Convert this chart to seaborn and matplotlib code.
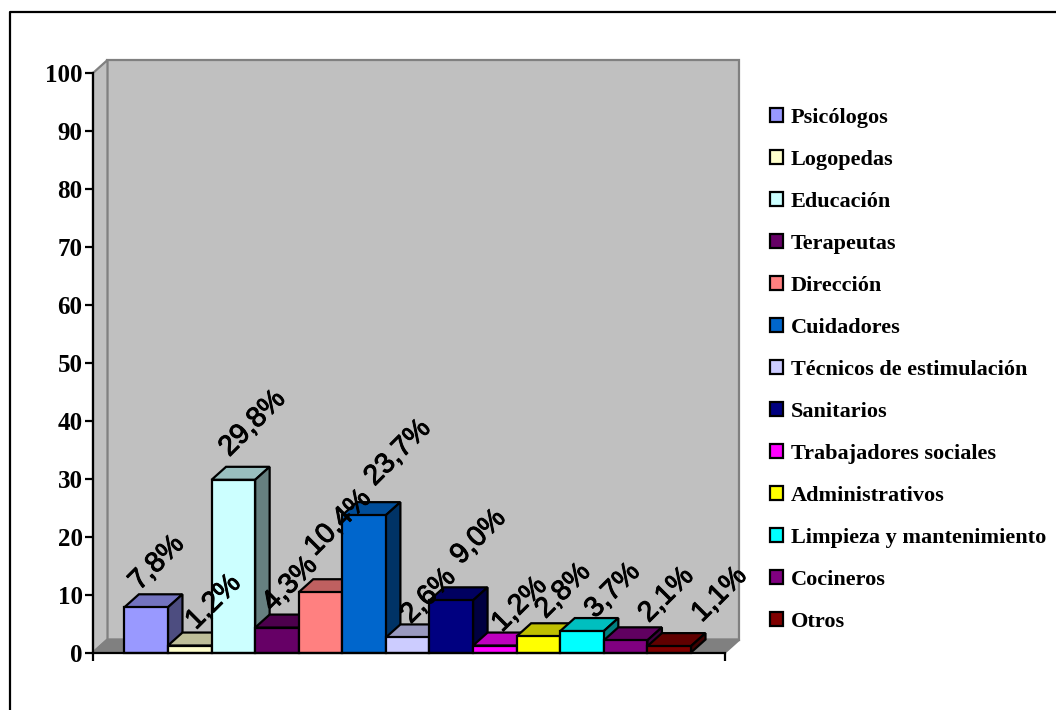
"""Personal por categoria profesional, 3D-look bars on a seaborn barplot."""
import matplotlib
matplotlib.use("Agg")
import matplotlib.pyplot as plt
import matplotlib.patheffects as pe
from matplotlib.colors import to_rgb
from matplotlib.lines import Line2D
from matplotlib.patches import Patch, Polygon
import pandas as pd
import seaborn as sns

CATEGORIES = ["Psicólogos", "Logopedas", "Educación", "Terapeutas", "Dirección",
              "Cuidadores", "Técnicos de estimulación", "Sanitarios",
              "Trabajadores sociales", "Administrativos",
              "Limpieza y mantenimiento", "Cocineros", "Otros"]
VALUES = [7.8, 1.2, 29.8, 4.3, 10.4, 23.7, 2.6, 9.0, 1.2, 2.8, 3.7, 2.1, 1.1]
LABELS = ["7,8%", "1,2%", "29,8%", "4,3%", "10,4%", "23,7%", "2,6%", "9,0%",
          "1,2%", "2,8%", "3,7%", "2,1%", "1,1%"]
COLORS = ["#9999FF", "#FFFFCC", "#CCFFFF", "#660066", "#FF8080", "#0066CC", "#CCCCFF",
          "#000080", "#FF00FF", "#FFFF00", "#00FFFF", "#800080", "#800000"]
YTICKS = list(range(0, 101, 10))

# label centre relative to the top of its bar, in pixels
LABEL_DX = [11, 24, 19.5, 13.5, 18, 34, 21, 27.5, 25, 25, 31, 41, 50.5]
LABEL_DY = [44, 43, 56, 43, 69, 62, 41, 63, 40.5, 45, 40, 45, 51]

W, H = 1056, 710
DX, DY = 14.5 / 43.6, 13 / 5.795  # depth of the fake 3D, in data units
WALL, EDGE = "#C0C0C0", "#808080"


def shade(color, k):
    r, g, b = to_rgb(color)
    return (r * k, g * k, b * k)


sns.set_theme(style="ticks")
plt.rcParams["font.family"] = ["Liberation Serif", "DejaVu Serif"]

fig = plt.figure(figsize=(W / 100, H / 100), dpi=100, facecolor="white")
ax = fig.add_axes([93 / W, 1 - 652.5 / H, 632 / W, 579.5 / H])
ax.patch.set_alpha(0)

df = pd.DataFrame({"cat": CATEGORIES, "val": VALUES})
sns.barplot(data=df, x="cat", y="val", hue="cat", palette=COLORS, width=1, dodge=False,
            saturation=1, edgecolor="black", linewidth=1.6, legend=False, ax=ax)
bars = sorted(ax.patches, key=lambda p: p.get_x())

x0, x1 = -0.5 - 0.72, 12.5 + 0.78
ax.set_xlim(x0, x1)
ax.set_ylim(0, 100)

# walls and floor
wall_kw = dict(clip_on=False, ec=EDGE, lw=1.6, zorder=0.5)
ax.add_patch(Polygon([(x0 + DX, DY), (x1 + DX, DY), (x1 + DX, 100 + DY), (x0 + DX, 100 + DY)],
                     fc=WALL, **wall_kw))
ax.add_patch(Polygon([(x0, 0), (x0 + DX, DY), (x0 + DX, 100 + DY), (x0, 100)], fc=WALL, **wall_kw))
ax.add_patch(Polygon([(x0, 0), (x0 + DX, DY), (x1 + DX, DY), (x1, 0)], fc=EDGE, **wall_kw))

# painter's order, left to right
for i, (b, c) in enumerate(zip(bars, COLORS)):
    l, r, v = b.get_x(), b.get_x() + b.get_width(), b.get_height()
    z = 3 + i * 3
    ax.add_patch(Polygon([(l, v), (l + DX, v + DY), (r + DX, v + DY), (r, v)], fc=shade(c, .75),
                         ec="black", lw=1.6, clip_on=False, zorder=z))
    ax.add_patch(Polygon([(r, 0), (r + DX, DY), (r + DX, v + DY), (r, v)], fc=shade(c, .5),
                         ec="black", lw=1.6, clip_on=False, zorder=z))
    b.set_zorder(z + 1)
    b.set_clip_on(False)
    ax.annotate(LABELS[i], xy=((l + r) / 2, v),
                xytext=(LABEL_DX[i] * .72, LABEL_DY[i] * .72), textcoords="offset points",
                rotation=45, rotation_mode="anchor", ha="center", va="center",
                family="Liberation Sans", fontsize=20.5, color="black", zorder=100,
                annotation_clip=False,
                path_effects=[pe.withStroke(linewidth=0.7, foreground="black")])

for s in ("top", "right"):
    ax.spines[s].set_visible(False)
for s in ("left", "bottom"):
    ax.spines[s].set_linewidth(1.6)
    ax.spines[s].set_color("black")
    ax.spines[s].set_zorder(60)
ax.set_xlabel("")
ax.set_ylabel("")
ax.set_yticks(YTICKS)
ax.set_xticks([x0, x1])
ax.set_xticklabels([])
ax.tick_params(axis="both", length=6, width=1.6, color="black")
ax.tick_params(axis="y", pad=1.5, labelsize=18)
for t in ax.get_yticklabels():
    t.set_fontweight("bold")
    t.set_color("black")

handles = [Patch(fc=c, ec="black", lw=1.6) for c in COLORS]
fig.legend(handles, CATEGORIES, loc="upper left", bbox_to_anchor=(770 / W, 1 - 108 / H),
           frameon=False, borderaxespad=0, borderpad=0,
           handlelength=0.6, handleheight=0.6, handletextpad=0.33, labelspacing=0.99,
           labelcolor="black", prop=dict(family="Liberation Serif", weight="bold", size=16))

# chart border, cut by the picture edge
fig.add_artist(Line2D([10 / W, 10 / W, 1], [0, 1 - 12 / H, 1 - 12 / H], color="black", lw=1.6))

fig.savefig("out.png", dpi=100)
